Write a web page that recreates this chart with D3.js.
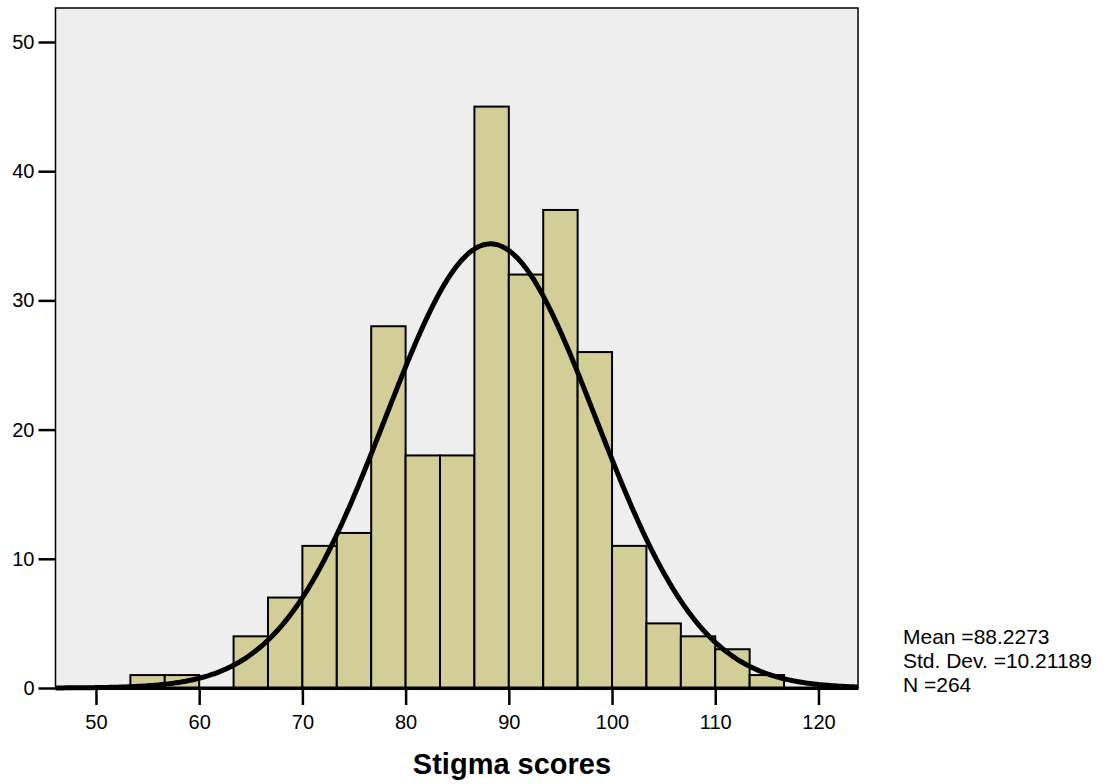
<!DOCTYPE html>
<html>
<head>
<meta charset="utf-8">
<script src="https://cdn.jsdelivr.net/npm/d3@7"></script>
<style>
  html, body { margin: 0; padding: 0; background: #fff; }
  svg text { font-family: "Liberation Sans", Arial, sans-serif; fill: #000; }
</style>
</head>
<body>
<svg id="chart" width="1110" height="784"></svg>
<script>
// Histogram of stigma scores: bins of width 10/3 starting at 53.33
const binStart = 160 / 3;
const binWidth = 10 / 3;
const counts = [1, 1, 0, 4, 7, 11, 12, 28, 18, 18, 45, 32, 37, 26, 11, 5, 4, 3, 1];
const xTicks = [50, 60, 70, 80, 90, 100, 110, 120];
const yTicks = [0, 10, 20, 30, 40, 50];
const mean = 88.2273;
const sd = 10.21189;
const n = 264;
const statsLines = ["Mean =88.2273", "Std. Dev. =10.21189", "N =264"];
const xTitle = "Stigma scores";

const svg = d3.select("#chart");
const plot = { left: 55.5, right: 858, top: 8, bottom: 688 };

const x = d3.scaleLinear().domain([46.08, 123.83]).range([plot.left, plot.right]);
const y = d3.scaleLinear().domain([0, 50]).range([plot.bottom, 42]);

// plot background
svg.append("rect")
  .attr("x", plot.left).attr("y", plot.top)
  .attr("width", plot.right - plot.left).attr("height", plot.bottom - plot.top)
  .attr("fill", "#eeeeee").attr("stroke", "#000").attr("stroke-width", 1.5);

// bars
const bins = counts.map((c, i) => ({ x0: binStart + i * binWidth, x1: binStart + (i + 1) * binWidth, c }));
svg.append("g").selectAll("rect").data(bins.filter(d => d.c > 0)).join("rect")
  .attr("x", d => x(d.x0)).attr("width", d => x(d.x1) - x(d.x0))
  .attr("y", d => y(d.c)).attr("height", d => y(0) - y(d.c))
  .attr("fill", "#d3ce97").attr("stroke", "#000").attr("stroke-width", 2);

// normal curve scaled to counts
const pdf = v => n * binWidth / (sd * Math.sqrt(2 * Math.PI)) * Math.exp(-0.5 * ((v - mean) / sd) ** 2);
const xs = d3.range(0, 401).map(i => x.domain()[0] + (x.domain()[1] - x.domain()[0]) * i / 400);
svg.append("path")
  .datum(xs)
  .attr("d", d3.line().x(v => x(v)).y(v => y(pdf(v))).curve(d3.curveBasis))
  .attr("fill", "none").attr("stroke", "#000").attr("stroke-width", 5)
  .attr("stroke-linejoin", "round");

// x axis
const xAxis = svg.append("g").attr("transform", `translate(0,${plot.bottom})`)
  .call(d3.axisBottom(x).tickValues(xTicks).tickSize(17).tickSizeOuter(0));
xAxis.select(".domain").attr("stroke-width", 3);
xAxis.selectAll(".tick line").attr("stroke-width", 2.5);
xAxis.selectAll(".tick text")
  .attr("font-size", 20).attr("y", 41).attr("dy", null);

// y axis
const yAxis = svg.append("g").attr("transform", `translate(${plot.left},0)`)
  .call(d3.axisLeft(y).tickValues(yTicks).tickSize(17).tickPadding(4).tickSizeOuter(0));
yAxis.select(".domain").remove();
yAxis.selectAll(".tick line").attr("stroke-width", 2.5);
yAxis.selectAll(".tick text").attr("font-size", 20);

// bottom axis line redrawn over the bars
svg.append("line")
  .attr("x1", plot.left).attr("x2", plot.right)
  .attr("y1", plot.bottom).attr("y2", plot.bottom)
  .attr("stroke", "#000").attr("stroke-width", 3);

// axis title
svg.append("text")
  .attr("x", 512).attr("y", 774)
  .attr("text-anchor", "middle")
  .attr("font-size", 29).attr("font-weight", "bold")
  .text(xTitle);

// summary statistics
svg.append("g").selectAll("text").data(statsLines).join("text")
  .attr("x", 903).attr("y", (d, i) => 643.5 + i * 24)
  .attr("font-size", 21)
  .text(d => d);
</script>
</body>
</html>
